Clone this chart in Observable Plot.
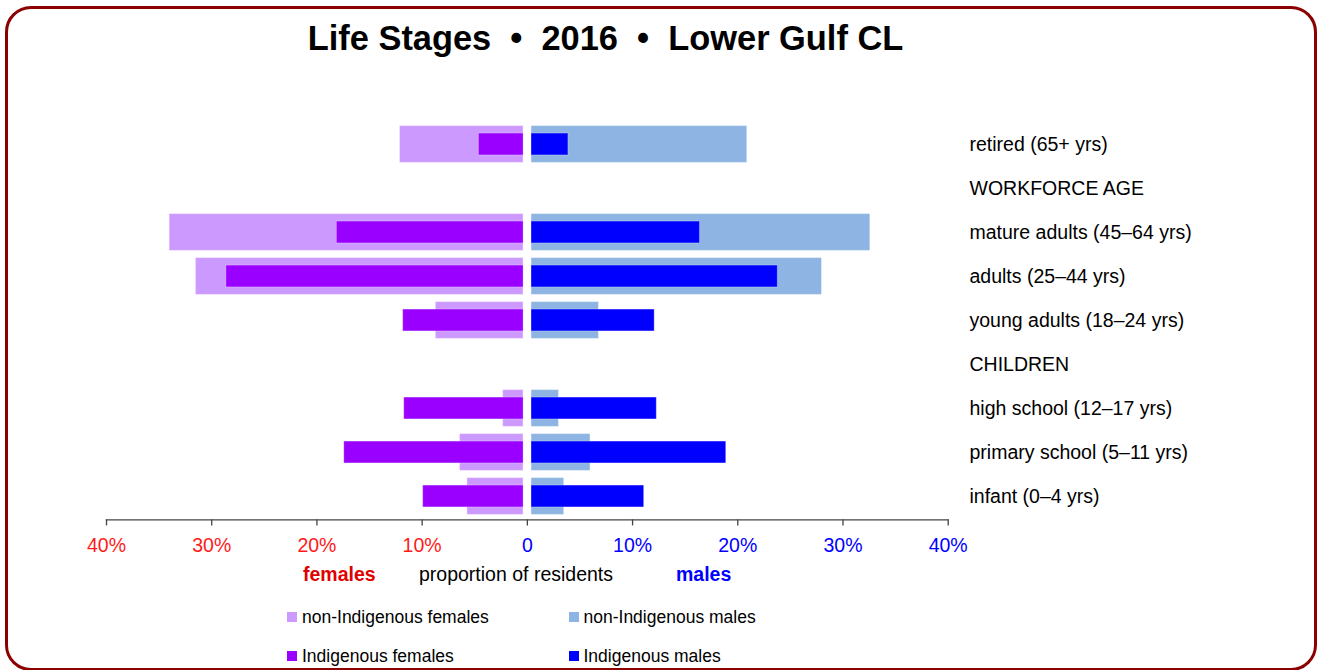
<!DOCTYPE html>
<html>
<head>
<meta charset="utf-8">
<script src="https://cdn.jsdelivr.net/npm/d3@7"></script>
<script src="https://cdn.jsdelivr.net/npm/@observablehq/plot@0.6"></script>
<style>
  html, body { margin: 0; padding: 0; background: #fff; }
  #wrap { position: relative; width: 1320px; height: 670px; overflow: hidden; font-family: "Liberation Sans", Arial, sans-serif; }
  #border { position: absolute; left: 5px; top: 6px; width: 1312px; height: 665px; box-sizing: border-box; border: 3px solid #8b0000; border-radius: 26px; }
  .abs { position: absolute; white-space: pre; }
  #title { left: 0; width: 1211px; text-align: center; top: 20.5px; font-size: 34.4px; line-height: 34px; font-weight: bold; color: #000; }
  #chart { position: absolute; left: 0; top: 0; }
  .axt { top: 565px; font-size: 19.5px; line-height: 19.5px; }
  .leg { font-size: 17.5px; line-height: 17.5px; color: #000; }
  .sw { position: absolute; width: 10px; height: 10px; }
</style>
</head>
<body>
<div id="wrap">
  <div id="border"></div>
  <div id="title" class="abs">Life Stages  •  2016  •  Lower Gulf CL</div>
  <div id="chart"></div>
  <div class="abs axt" style="left:303px; font-weight:bold; color:#e00000;">females</div>
  <div class="abs axt" style="left:419px; color:#000;">proportion of residents</div>
  <div class="abs axt" style="left:676px; font-weight:bold; color:#0000ff;">males</div>
  <div id="legend"></div>
</div>
<script>
// ---- data ----
const stages = [
  "retired (65+ yrs)",
  "WORKFORCE AGE",
  "mature adults (45–64 yrs)",
  "adults (25–44 yrs)",
  "young adults (18–24 yrs)",
  "CHILDREN",
  "high school (12–17 yrs)",
  "primary school (5–11 yrs)",
  "infant (0–4 yrs)"
];
const barStages = [
  "retired (65+ yrs)",
  "mature adults (45–64 yrs)",
  "adults (25–44 yrs)",
  "young adults (18–24 yrs)",
  "high school (12–17 yrs)",
  "primary school (5–11 yrs)",
  "infant (0–4 yrs)"
];
const nonIndigenousFemales = [12.1, 34.0, 31.5, 8.7, 2.3, 6.4, 5.7];
const indigenousFemales    = [4.6, 18.1, 28.6, 11.8, 11.7, 17.4, 9.9];
const nonIndigenousMales   = [20.9, 32.6, 28.0, 6.8, 3.0, 6.0, 3.5];
const indigenousMales      = [3.9, 16.4, 23.8, 12.1, 12.3, 18.9, 11.1];
const xTicks = [-40, -30, -20, -10, 0, 10, 20, 30, 40];
const legendLabels = ["non-Indigenous females", "non-Indigenous males", "Indigenous females", "Indigenous males"];
const colors = {nonF: "#cc99ff", indF: "#9900ff", nonM: "#8db4e2", indM: "#0000ff"};

const rows = barStages.map((s, i) => ({
  stage: s,
  nonF: nonIndigenousFemales[i],
  indF: indigenousFemales[i],
  nonM: nonIndigenousMales[i],
  indM: indigenousMales[i]
}));

const fmt = d => d === 0 ? "0" : Math.abs(d) + "%";
const FS = 19.5;

const chart = Plot.plot({
  width: 1320,
  height: 600,
  marginLeft: 106,
  marginRight: 372.3,
  marginTop: 121.07,
  marginBottom: 600 - 519.4,
  style: {fontFamily: "'Liberation Sans', Arial, sans-serif", color: "#000", background: "transparent"},
  x: {domain: [-40, 40], axis: null},
  y: {domain: stages, padding: 0, axis: null},
  marks: [
    // non-Indigenous (wide bars)
    Plot.barX(rows, {y: "stage", x1: d => -d.nonF, x2: 0, fill: colors.nonF, insetRight: 3.8, insetTop: 3.6, insetBottom: 3.6, stroke: "#fff", strokeOpacity: 0.35, strokeWidth: 1}),
    Plot.barX(rows, {y: "stage", x1: 0, x2: "nonM", fill: colors.nonM, insetLeft: 4.2, insetTop: 3.6, insetBottom: 3.6, stroke: "#fff", strokeOpacity: 0.35, strokeWidth: 1}),
    // Indigenous (narrow bars)
    Plot.barX(rows, {y: "stage", x1: d => -d.indF, x2: 0, fill: colors.indF, insetRight: 3.8, insetTop: 11.1, insetBottom: 11.1, stroke: "#fff", strokeOpacity: 0.25, strokeWidth: 1}),
    Plot.barX(rows, {y: "stage", x1: 0, x2: "indM", fill: colors.indM, insetLeft: 4.2, insetTop: 11.1, insetBottom: 11.1, stroke: "#fff", strokeOpacity: 0.25, strokeWidth: 1}),
    // category labels on the right
    Plot.axisY({anchor: "right", tickSize: 0, tickPadding: 21.3, fontSize: FS, fill: "#000", label: null}),
    // x axis line and ticks
    Plot.frame({anchor: "bottom", stroke: "#444", strokeWidth: 1.3}),
    Plot.axisX({ticks: xTicks, tickSize: 6, tickFormat: () => "", stroke: "#444", strokeWidth: 1.3, label: null}),
    Plot.text(xTicks.filter(d => d < 0), {x: d => d, frameAnchor: "bottom", dy: 32, text: fmt, fill: "#ff1a1a", fontSize: FS}),
    Plot.text(xTicks.filter(d => d >= 0), {x: d => d, frameAnchor: "bottom", dy: 32, text: fmt, fill: "#0000ff", fontSize: FS})
  ]
});
document.getElementById("chart").appendChild(chart);

// ---- legend ----
const legend = document.getElementById("legend");
const legendItems = [
  {label: legendLabels[0], color: colors.nonF, x: 287, y: 608.5},
  {label: legendLabels[1], color: colors.nonM, x: 568.5, y: 608.5},
  {label: legendLabels[2], color: colors.indF, x: 287, y: 647.5},
  {label: legendLabels[3], color: colors.indM, x: 568.5, y: 647.5}
];
for (const it of legendItems) {
  const sw = document.createElement("div");
  sw.className = "sw";
  sw.style.left = it.x + "px";
  sw.style.top = (it.y + 3.8) + "px";
  sw.style.background = it.color;
  legend.appendChild(sw);
  const t = document.createElement("div");
  t.className = "abs leg";
  t.style.left = (it.x + 15) + "px";
  t.style.top = it.y + "px";
  t.textContent = it.label;
  legend.appendChild(t);
}
</script>
</body>
</html>
